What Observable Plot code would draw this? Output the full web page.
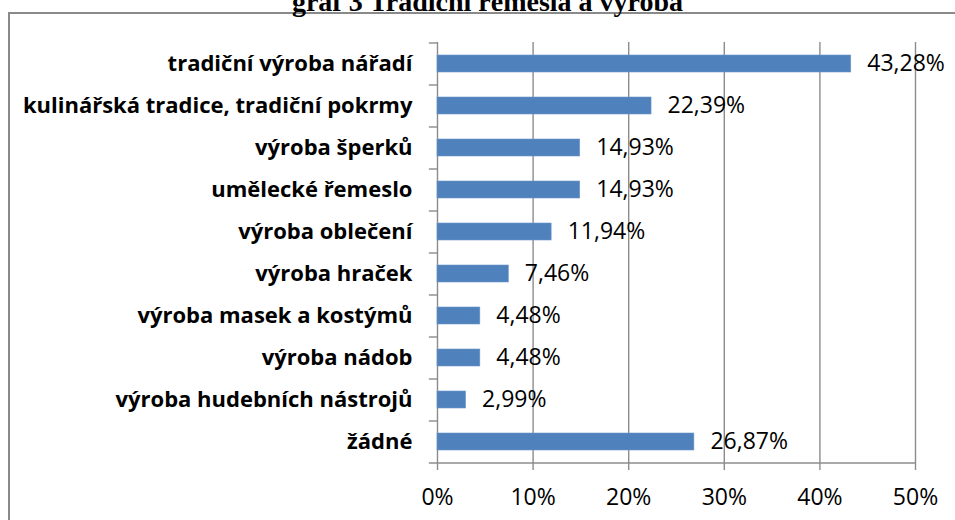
<!DOCTYPE html>
<html><head><meta charset="utf-8">
<script src="https://cdn.jsdelivr.net/npm/d3@7"></script>
<script src="https://cdn.jsdelivr.net/npm/@observablehq/plot@0.6"></script>
<style>
body{margin:0;background:#fff;}
#wrap{position:relative;width:955px;height:520px;overflow:hidden;}
#frame{position:absolute;left:8px;top:12px;width:980px;height:540px;border-left:2px solid #8a8a8a;border-top:2px solid #8a8a8a;}
#title{position:absolute;top:-12px;left:0;width:975px;text-align:center;font:bold 28px/28px "Liberation Serif",serif;color:#000;}
#chart{position:absolute;left:0;top:0;}
</style>
</head><body>
<div id="wrap">
  <div id="frame"></div>
  <div id="title">graf 3 Tradiční řemesla a výroba</div>
  <div id="chart"></div>
</div>
<script>
const categories = [
  "tradiční výroba nářadí",
  "kulinářská tradice, tradiční pokrmy",
  "výroba šperků",
  "umělecké řemeslo",
  "výroba oblečení",
  "výroba hraček",
  "výroba masek a kostýmů",
  "výroba nádob",
  "výroba hudebních nástrojů",
  "žádné"
];
const values = [43.28, 22.39, 14.93, 14.93, 11.94, 7.46, 4.48, 4.48, 2.99, 26.87];
const valueLabels = ["43,28%", "22,39%", "14,93%", "14,93%", "11,94%", "7,46%", "4,48%", "4,48%", "2,99%", "26,87%"];
const xTicks = [0, 10, 20, 30, 40, 50];

const data = categories.map((c, i) => ({category: c, value: values[i], label: valueLabels[i]}));
const gray = "#8c8c8c";

const chart = Plot.plot({
  width: 955,
  height: 520,
  marginLeft: 437,
  marginRight: 40,
  marginTop: 42,
  marginBottom: 58,
  style: {fontFamily: "'Open Sans', sans-serif", background: "transparent", color: "#000", overflow: "visible"},
  x: {domain: [0, 50], ticks: xTicks},
  y: {domain: categories, paddingInner: 0.6, paddingOuter: 0.3},
  marks: [
    Plot.ruleX(xTicks.slice(1), {stroke: gray, strokeWidth: 1.4}),
    Plot.ruleY(categories, {x1: -0.85, x2: 0, dy: -21, stroke: gray, strokeWidth: 1.4, clip: false}),
    Plot.ruleY([categories[categories.length - 1]], {x1: -0.85, x2: 50, dy: 21, stroke: gray, strokeWidth: 1.4}),
    Plot.ruleX([0], {stroke: gray, strokeWidth: 1.4}),
    Plot.barX(data, {x: "value", y: "category", fill: "#4F81BD", stroke: "#6f97c8", strokeWidth: 0.6}),
    Plot.text(data, {x: "value", y: "category", text: "label", textAnchor: "start", dx: 16, fontSize: 23, fill: "#000"}),
    Plot.axisX({ticks: xTicks, tickSize: 8, tickPadding: 18, stroke: gray, strokeWidth: 1.4, fill: "#000", fontSize: 23, tickFormat: d => d + "%", label: null}),
    Plot.axisY({tickSize: 0, tickPadding: 25, fontSize: 22, fontWeight: "bold", fill: "#000", label: null})
  ]
});
document.getElementById("chart").appendChild(chart);
</script>
</body></html>
